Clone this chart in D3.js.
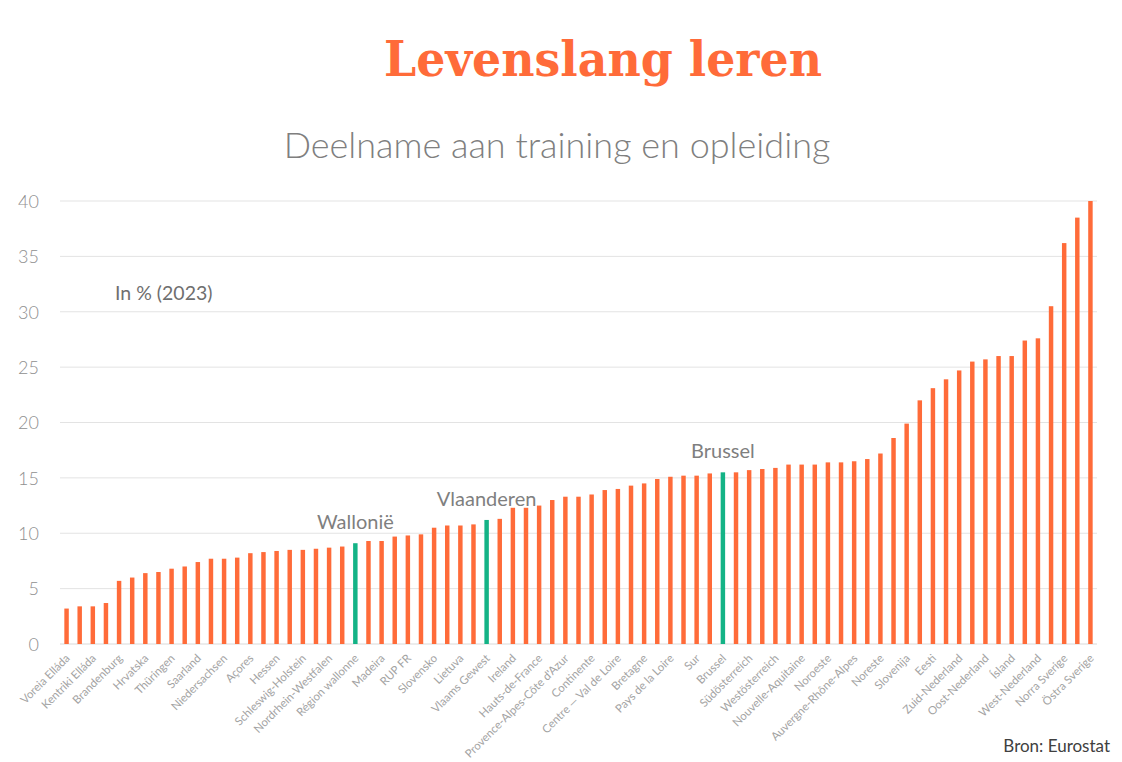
<!DOCTYPE html>
<html><head><meta charset="utf-8">
<script src="https://cdn.jsdelivr.net/npm/d3@7"></script>
<style>body{margin:0;background:#fff}svg{display:block}</style>
</head><body>
<svg id="c" width="1122" height="762"></svg>
<script>
// Category labels (only every other region is labelled in the source; unlabeled ones are "")
const labels = [
 "Voreia Elláda","","Kentriki Elláda","","Brandenburg","","Hrvatska","","Thüringen","",
 "Saarland","","Niedersachsen","","Açores","","Hessen","","Schleswig-Holstein","",
 "Nordrhein-Westfalen","","Région wallonne","","Madeira","","RUP FR","","Slovensko","",
 "Lietuva","","Vlaams Gewest","","Ireland","","Hauts-de-France","","Provence-Alpes-Côte d'Azur","",
 "Continente","","Centre — Val de Loire","","Bretagne","","Pays de la Loire","","Sur","",
 "Brussel","","Südösterreich","","Westösterreich","","Nouvelle-Aquitaine","","Noroeste","",
 "Auvergne-Rhône-Alpes","","Noreste","","Slovenija","","Eesti","","Zuid-Nederland","",
 "Oost-Nederland","","Ísland","","West-Nederland","","Norra Sverige","","Östra Sverige"
];
const values = [
 3.2,3.4,3.4,3.7,5.7,6.0,6.4,6.5,6.8,7.0,
 7.4,7.7,7.7,7.8,8.2,8.3,8.4,8.5,8.5,8.6,
 8.7,8.8,9.1,9.3,9.3,9.7,9.8,9.9,10.5,10.7,
 10.7,10.8,11.2,11.3,12.3,12.3,12.5,13.0,13.3,13.3,
 13.5,13.9,14.0,14.3,14.5,14.9,15.1,15.2,15.2,15.4,
 15.5,15.5,15.7,15.8,15.9,16.2,16.2,16.2,16.4,16.4,
 16.5,16.7,17.2,18.6,19.9,22.0,23.1,23.9,24.7,25.5,
 25.7,26.0,26.0,27.4,27.6,30.5,36.2,38.5,40.0
];
const highlighted = ["Région wallonne","Vlaams Gewest","Brussel"];
const annotations = [
 {label:"Région wallonne", text:"Wallonië"},
 {label:"Vlaams Gewest", text:"Vlaanderen"},
 {label:"Brussel", text:"Brussel"}
];
const yTicks = [0,5,10,15,20,25,30,35,40];

const data = values.map((v,i)=>({i, label:labels[i], value:v}));
const svg = d3.select("#c");
const m = {l:60, r:1097, t:201, b:644};
const x = d3.scaleBand().domain(data.map(d=>d.i)).range([m.l, m.r]).paddingInner(0.66).paddingOuter(0.33);
const y = d3.scaleLinear().domain([0,40]).range([m.b, m.t]);

const ORANGE="#FF6B39", GREEN="#13B386";
const FONT="Lato, 'Open Sans', sans-serif";

// gridlines
svg.append("g").selectAll("line").data(yTicks).join("line")
  .attr("x1",m.l).attr("x2",m.r).attr("y1",d=>y(d)).attr("y2",d=>y(d))
  .attr("stroke",d=>d===0?"#d9d9d9":"#e3e3e3").attr("stroke-width",1);

// y axis labels
const yAxis = d3.axisLeft(y).tickValues(yTicks).tickSize(0).tickPadding(0);
const gy = svg.append("g").attr("transform",`translate(39,0)`).call(yAxis);
gy.select(".domain").remove();
gy.selectAll("text").attr("font-family",FONT).attr("font-weight",300).attr("font-size",18).attr("fill","#8f8f8f").attr("dy","0.35em");

// bars
svg.append("g").selectAll("rect").data(data).join("rect")
  .attr("x",d=>x(d.i)).attr("width",x.bandwidth())
  .attr("y",d=>y(d.value)).attr("height",d=>y(0)-y(d.value))
  .attr("fill",d=>highlighted.includes(d.label)?GREEN:ORANGE);

// x axis labels
const xAxis = d3.axisBottom(x).tickValues(data.filter(d=>d.label!=="").map(d=>d.i)).tickFormat(i=>labels[i]).tickSize(0).tickPadding(0);
const gx = svg.append("g").attr("transform",`translate(0,${m.b})`).call(xAxis);
gx.select(".domain").remove();
gx.selectAll("text").attr("font-family",FONT).attr("font-size",11.4).attr("fill","#a3a3a3")
  .attr("text-anchor","end").attr("dy",0).attr("y",0)
  .attr("transform","translate(4,15) rotate(-45)");

// annotations
annotations.forEach(a=>{
  const d = data.find(e=>e.label===a.label);
  svg.append("text").attr("x",x(d.i)+x.bandwidth()/2).attr("y",y(d.value)-14)
    .attr("text-anchor","middle").attr("font-family",FONT).attr("font-size",20).attr("fill","#7f7f7f").text(a.text);
});

// titles
svg.append("text").attr("x",603).attr("y",76).attr("text-anchor","middle")
  .attr("font-family","'DejaVu Serif', serif").attr("font-weight","bold").attr("font-size",48).attr("fill","#FF6B39")
  .attr("textLength",438).attr("lengthAdjust","spacingAndGlyphs").text("Levenslang leren");
svg.append("text").attr("x",557).attr("y",158).attr("text-anchor","middle")
  .attr("font-family",FONT).attr("font-weight",300).attr("font-size",36).attr("fill","#7f7f7f")
  .text("Deelname aan training en opleiding");
svg.append("text").attr("x",115).attr("y",300)
  .attr("font-family",FONT).attr("font-size",19.5).attr("fill","#6f6f6f").text("In % (2023)");
svg.append("text").attr("x",1110).attr("y",752).attr("text-anchor","end")
  .attr("font-family",FONT).attr("font-size",17).attr("fill","#404040").text("Bron: Eurostat");
</script>
</body></html>
